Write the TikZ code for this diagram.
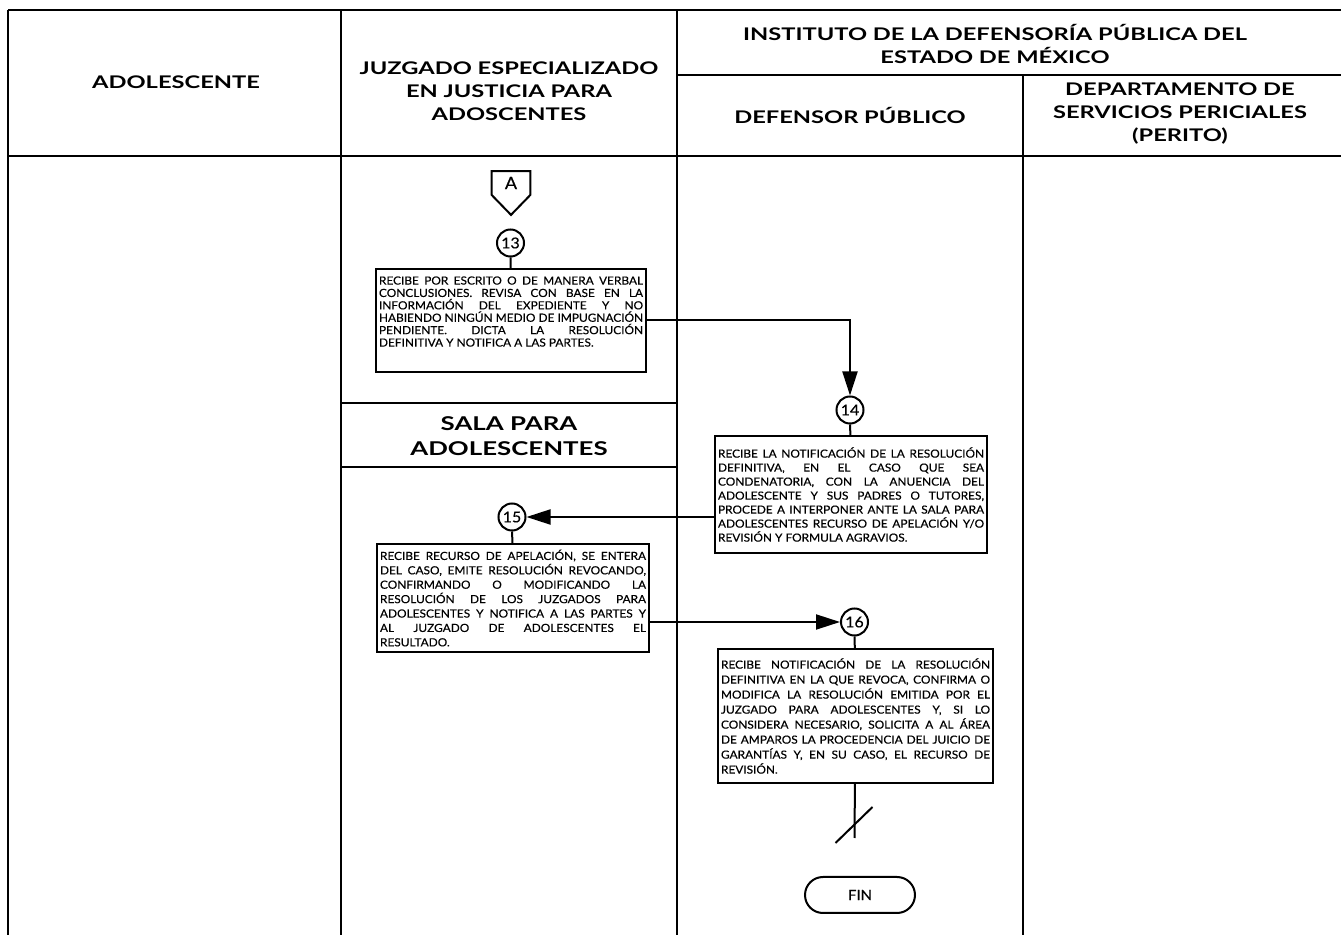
\documentclass[tikz,border=0pt]{standalone}
\usepackage{fontspec}
\setmainfont{Lato}
\newfontfamily\hdfont{Lato}[FakeStretch=1.36]
\newfontfamily\txfont{Lato}[FakeStretch=1.06,FakeBold=0.35]
\usetikzlibrary{shapes,arrows.meta,positioning}
\hyphenpenalty=10000
\tikzstyle{frame} = [draw, line width=0.7pt]
\tikzstyle{title} = [align=center, font=\hdfont\bfseries\fontsize{8.7}{11.5}\selectfont]
\tikzstyle{block} = [rectangle, draw, line width=1pt, anchor=north west,
    text width=132pt, align=justify, inner xsep=1.5pt, inner ysep=2pt]
\tikzstyle{conn} = [circle, draw, line width=1pt, minimum size=13.5pt, inner sep=0pt,
    font=\txfont\fontsize{7.5}{8}\selectfont]
\tikzstyle{offpage} = [minimum width=19pt, minimum height=11.5pt, inner sep=0pt,
    font=\txfont\fontsize{8.5}{9}\selectfont]
\tikzstyle{term} = [rectangle, draw, line width=1pt, rounded corners=9pt,
    minimum width=55pt, minimum height=18pt, font=\txfont\fontsize{7}{8}\selectfont]
\tikzstyle{line} = [draw, line width=1pt]
\tikzstyle{arrow} = [draw, line width=1pt, -{Triangle[length=12pt,width=7.5pt]}]
\newcommand{\boxpad}[1]{\rule[-#1]{0pt}{#1}}

\begin{document}
\begin{tikzpicture}[x=0.5pt,y=-0.5pt]
		\useasboundingbox (0,0) rectangle (1341,935);
		% Draw lanes
		\draw[frame] (8,10) -- (1341,10);
		\draw[frame, line width=1.1pt] (8,10) -- (8,935);
		\draw[frame] (341,10) -- (341,935);
		\draw[frame, line width=0.9pt] (677,10) -- (677,935);
		\draw[frame] (1023,75) -- (1023,935);
		\draw[frame] (677,75) -- (1341,75);
		\draw[frame] (8,156) -- (1341,156);
		\draw[frame] (341,403) -- (677,403);
		\draw[frame] (341,467) -- (677,467);
		% Draw headers
		\node [title] (hAdol) at (176,82) {ADOLESCENTE};
		\node [title] (hJuz) at (509,91) {JUZGADO ESPECIALIZADO\\EN JUSTICIA PARA\\ADOSCENTES};
		\node [title] (hInst) at (995,44) {INSTITUTO DE LA DEFENSORÍA PÚBLICA DEL\\ESTADO DE MÉXICO};
		\node [title] (hDef) at (850,115) {DEFENSOR PÚBLICO};
		\node [title] (hDep) at (1180,114) {DEPARTAMENTO DE\\SERVICIOS PERICIALES\\(PERITO)};
		\node [title, font=\hdfont\bfseries\fontsize{9.5}{12.5}\selectfont] (hSala) at (509,436) {SALA PARA\\ADOLESCENTES};
		% Draw nodes
		\node [offpage] (offA) at (511,183) {A};
		\node [conn] (c13) at (510.5,243) {13};
		\node [block, minimum height=51.5pt, font=\txfont\fontsize{5.6}{6.2}\selectfont] (b13) at (375,268) {RECIBE POR ESCRITO O DE MANERA VERBAL\linebreak
			CONCLUSIONES. REVISA CON BASE EN LA\linebreak
			INFORMACIÓN DEL EXPEDIENTE Y NO\linebreak
			HABIENDO NINGÚN MEDIO DE IMPUGNACIÓN\linebreak
			PENDIENTE. DICTA LA RESOLUCIÓN\linebreak
			DEFINITIVA Y NOTIFICA A LAS PARTES.\boxpad{9pt}};
		\node [conn] (c14) at (850,410) {14};
		\node [block, minimum height=58.5pt, text width=133pt, font=\txfont\fontsize{5.6}{7}\selectfont] (b14) at (714,435) {RECIBE LA NOTIFICACIÓN DE LA RESOLUCIÓN\linebreak
			DEFINITIVA, EN EL CASO QUE SEA\linebreak
			CONDENATORIA, CON LA ANUENCIA DEL\linebreak
			ADOLESCENTE Y SUS PADRES O TUTORES,\linebreak
			PROCEDE A INTERPONER ANTE LA SALA PARA\linebreak
			ADOLESCENTES RECURSO DE APELACIÓN Y/O\linebreak
			REVISIÓN Y FORMULA AGRAVIOS.};
		\node [conn] (c15) at (512,517) {15};
		\node [block, minimum height=54pt, text width=133pt, font=\txfont\fontsize{5.6}{7.2}\selectfont] (b15) at (376,543) {RECIBE RECURSO DE APELACIÓN, SE ENTERA\linebreak
			DEL CASO, EMITE RESOLUCIÓN REVOCANDO,\linebreak
			CONFIRMANDO O MODIFICANDO LA\linebreak
			RESOLUCIÓN DE LOS JUZGADOS PARA\linebreak
			ADOLESCENTES Y NOTIFICA A LAS PARTES Y\linebreak
			AL JUZGADO DE ADOLESCENTES EL\linebreak
			RESULTADO.};
		\node [conn] (c16) at (854.5,622) {16};
		\node [block, minimum height=67pt, text width=134.5pt, font=\txfont\fontsize{5.6}{7.5}\selectfont] (b16) at (717,648) {RECIBE NOTIFICACIÓN DE LA RESOLUCIÓN\linebreak
			DEFINITIVA EN LA QUE REVOCA, CONFIRMA O\linebreak
			MODIFICA LA RESOLUCIÓN EMITIDA POR EL\linebreak
			JUZGADO PARA ADOLESCENTES Y, SI LO\linebreak
			CONSIDERA NECESARIO, SOLICITA A AL ÁREA\linebreak
			DE AMPAROS LA PROCEDENCIA DEL JUICIO DE\linebreak
			GARANTÍAS Y, EN SU CASO, EL RECURSO DE\linebreak
			REVISIÓN.};
		\coordinate (cut) at (854.5,838);
		\node [term] (fin) at (860,895) {FIN};
		% Off-page connector outline
		\draw [line] (offA.south west) -- (offA.north west) -- (offA.north east)
			-- (offA.south east) -- ([yshift=-10pt]offA.south) -- cycle;
		% Draw lines connecting (arrows)
		\path [line] (c13) -- (b13);
		\path [arrow] (b13.east) -| (c14);
		\path [line] (c14) -- (b14);
		\path [arrow] (b14.west |- c15) -- (c15);
		\path [line] (c15) -- (b15);
		\path [arrow] (b15.east |- c16) -- (c16);
		\path [line] (c16) -- (b16);
		\path [line] (b16) -- (cut);
		\path [line] ([shift={(-19,5)}]cut) -- ([shift={(18,-31)}]cut);
	\end{tikzpicture}
\end{document}
